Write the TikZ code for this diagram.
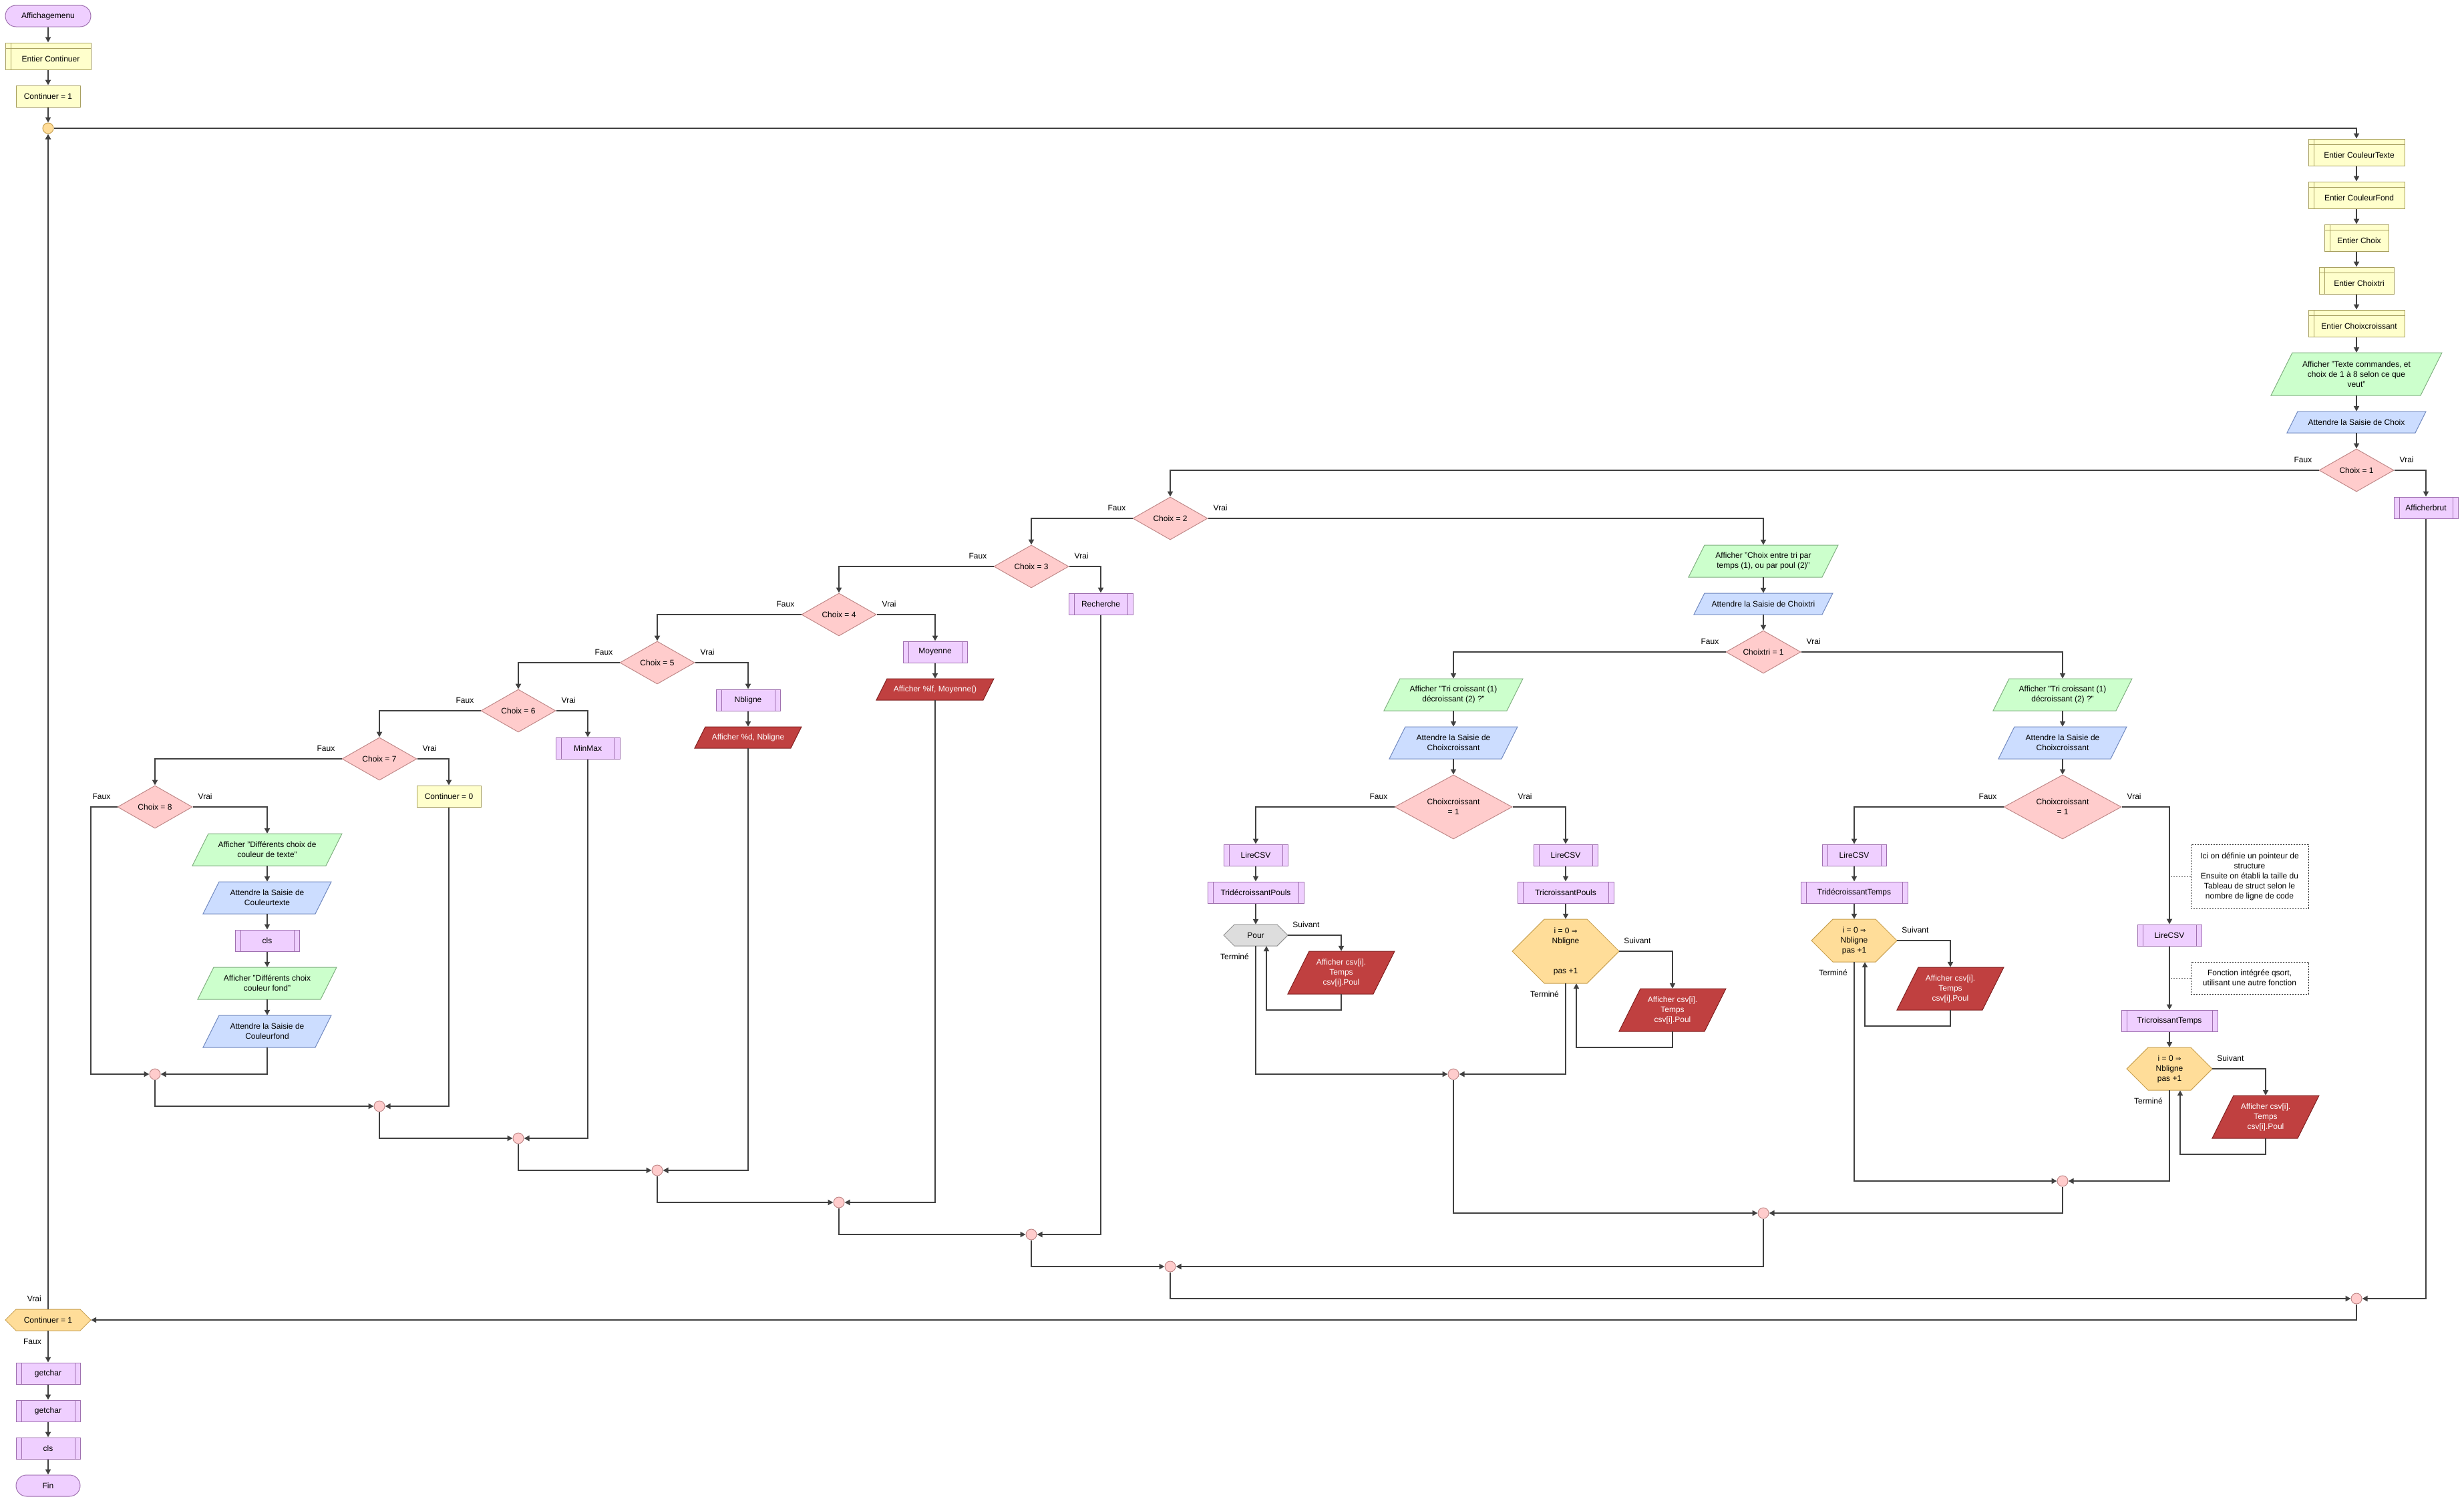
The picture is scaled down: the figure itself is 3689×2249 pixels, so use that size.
\documentclass[tikz,border=0pt]{standalone}
\usepackage{fontspec}
\setmainfont{Liberation Sans}
\newfontfamily\symfont{DejaVu Sans}
\usetikzlibrary{arrows.meta,shapes.geometric}

\definecolor{linec}{HTML}{404040}
\definecolor{purf}{HTML}{EFCFFF}\definecolor{purd}{HTML}{9F70B0}
\definecolor{yelf}{HTML}{FFFFCC}\definecolor{yeld}{HTML}{A8A060}
\definecolor{pinkf}{HTML}{FFCCCC}\definecolor{pinkd}{HTML}{C08888}
\definecolor{grnf}{HTML}{CCFFCC}\definecolor{grnd}{HTML}{80B080}
\definecolor{bluf}{HTML}{CCDDFF}\definecolor{blud}{HTML}{7088C0}
\definecolor{redf}{HTML}{C04040}\definecolor{redd}{HTML}{802020}
\definecolor{orf}{HTML}{FFDD99}\definecolor{ord}{HTML}{C8A050}
\definecolor{gryf}{HTML}{DDDDDD}\definecolor{gryd}{HTML}{909090}

\newcommand{\fleche}{{\symfont\fontsize{10}{15}\selectfont ⇒}}

% parallelogram (input/output): name, x, y, side width, height, style, text colour, text
\newcommand{\ionode}[8]{%
  \pgfmathsetmacro\ioxa{#2-#4/2-#5/4}%
  \pgfmathsetmacro\ioxb{#2+#4/2-#5/4}%
  \pgfmathsetmacro\ioxc{#2+#4/2+#5/4}%
  \pgfmathsetmacro\ioxd{#2-#4/2+#5/4}%
  \pgfmathsetmacro\ioyb{#3+#5/2}%
  \pgfmathsetmacro\ioyt{#3-#5/2}%
  \path[#6] (\ioxa,\ioyb) -- (\ioxb,\ioyb) -- (\ioxc,\ioyt) -- (\ioxd,\ioyt) -- cycle;
  \node[shapetext, text=#7, minimum width=#4pt, minimum height=#5pt] (#1) at (#2,#3) {#8};}

% hexagon (loops): name, x, y, width, height, slant, style, text
\newcommand{\hexnode}[8]{%
  \pgfmathsetmacro\hxa{#2-#4/2}%
  \pgfmathsetmacro\hxb{#2-#4/2+#6}%
  \pgfmathsetmacro\hxc{#2+#4/2-#6}%
  \pgfmathsetmacro\hxd{#2+#4/2}%
  \pgfmathsetmacro\hya{#3-#5/2}%
  \pgfmathsetmacro\hyb{#3+#5/2}%
  \path[#7] (\hxa,#3) -- (\hxb,\hya) -- (\hxc,\hya) -- (\hxd,#3) -- (\hxc,\hyb) -- (\hxb,\hyb) -- cycle;
  \node[shapetext, minimum width=#4pt, minimum height=#5pt] (#1) at (#2,#3) {#8};}

\tikzset{
  every node/.style={font=\fontsize{12}{15}\selectfont},
  base/.style={inner sep=0pt, align=center, line width=1pt},
  shapetext/.style={rectangle, inner sep=0pt, align=center, draw=none, fill=none},
  term/.style={base, rectangle, rounded corners=16pt, minimum width=#1, minimum height=32pt, fill=purf, draw=purd},
  term/.default=96pt,
  sub/.style={base, rectangle, minimum width=#1, minimum height=32pt, fill=purf, draw=purd,
    path picture={\draw[purd, line width=1pt]
      ([xshift=8pt]path picture bounding box.north west) -- ([xshift=8pt]path picture bounding box.south west)
      ([xshift=-8pt]path picture bounding box.north east) -- ([xshift=-8pt]path picture bounding box.south east);}},
  sub/.default=96pt,
  decl/.style={base, rectangle, minimum width=#1, minimum height=40pt, fill=yelf, draw=yeld,
    execute at begin node={\hspace*{8pt}\rule{0pt}{17pt}},
    path picture={\draw[yeld, line width=1pt]
      ([xshift=8pt]path picture bounding box.north west) -- ([xshift=8pt]path picture bounding box.south west)
      ([yshift=-8pt]path picture bounding box.north west) -- ([yshift=-8pt]path picture bounding box.north east);}},
  decl/.default=128pt,
  proc/.style={base, rectangle, minimum width=96pt, minimum height=32pt, fill=yelf, draw=yeld},
  dec/.style={base, diamond, aspect=1.75, minimum width=112pt, minimum height=64pt, fill=pinkf, draw=pinkd},
  bigdec/.style={base, diamond, aspect=1.83, minimum width=176pt, minimum height=96pt, fill=pinkf, draw=pinkd},
  jn/.style={circle, inner sep=0pt, minimum size=16pt, fill=pinkf, draw=pinkd, line width=1pt},
  note/.style={base, rectangle, fill=white, draw=black!85, dash pattern=on 2pt off 2pt},
  notel/.style={draw=black!60, line width=1pt, dash pattern=on 2pt off 2pt},
  iogrn/.style={fill=grnf, draw=grnd, line width=1pt},
  ioblu/.style={fill=bluf, draw=blud, line width=1pt},
  iored/.style={fill=redf, draw=redd, line width=1pt},
  hexorg/.style={fill=orf, draw=ord, line width=1pt},
  hexgry/.style={fill=gryf, draw=gryd, line width=1pt},
  lbl/.style={inner sep=0pt},
  flow/.style={draw=linec, line width=2pt, -{Triangle[length=8pt,width=8pt]}},
}

\begin{document}
\begin{tikzpicture}[x=1pt,y=-1pt]
\useasboundingbox (0,0) rectangle (3689,2249);
\fill[white] (0,0) rectangle (3689,2249);

% ---- start of program (left column)
\node[term=128pt] (start) at (72,24) {Affichagemenu};
\node[decl=128pt] (dcont) at (72,84) {Entier Continuer};
\node[proc] (cont1) at (72,144) {Continuer = 1};
\node[jn, fill=orf, draw=ord] (jtop) at (72,192) {};

% ---- loop body header (right column)
\node[decl=144pt] (dtxt) at (3528,228) {Entier CouleurTexte};
\node[decl=144pt] (dfond) at (3528,292) {Entier CouleurFond};
\node[decl=96pt] (dchoix) at (3528,356) {Entier Choix};
\node[decl=112pt] (dtri) at (3528,420) {Entier Choixtri};
\node[decl=144pt] (dcroi) at (3528,484) {Entier Choixcroissant};
\ionode{menu}{3528}{560}{224}{64}{iogrn}{black}{Afficher "Texte commandes, et\\choix de 1 à 8 selon ce que\\veut"}
\ionode{wchoix}{3528}{632}{192}{32}{ioblu}{black}{Attendre la Saisie de Choix}
\node[dec] (q1) at (3528,704) {Choix = 1};
\node[sub] (brut) at (3632,760) {Afficherbrut};

% ---- menu cascade
\node[dec] (q2) at (1752,776) {Choix = 2};
\node[dec] (q3) at (1544,848) {Choix = 3};
\node[sub] (rech) at (1648,904) {Recherche};
\node[dec] (q4) at (1256,920) {Choix = 4};
\node[sub] (moy) at (1400,976) {Moyenne};
\ionode{affmoy}{1400}{1032}{160}{32}{iored}{white}{Afficher \%lf, Moyenne()}
\node[dec] (q5) at (984,992) {Choix = 5};
\node[sub] (nbl) at (1120,1048) {Nbligne};
\ionode{affnbl}{1120}{1104}{144}{32}{iored}{white}{Afficher \%d, Nbligne}
\node[dec] (q6) at (776,1064) {Choix = 6};
\node[sub] (minmax) at (880,1120) {MinMax};
\node[dec] (q7) at (568,1136) {Choix = 7};
\node[proc] (cont0) at (672,1192) {Continuer = 0};
\node[dec] (q8) at (232,1208) {Choix = 8};
\ionode{coltxt}{400}{1272}{200}{48}{iogrn}{black}{Afficher "Différents choix de\\couleur de texte"}
\ionode{wcoltxt}{400}{1344}{168}{48}{ioblu}{black}{Attendre la Saisie de\\Couleurtexte}
\node[sub] (cls1) at (400,1408) {cls};
\ionode{colfond}{400}{1472}{184}{48}{iogrn}{black}{Afficher "Différents choix\\couleur fond"}
\ionode{wcolfond}{400}{1544}{168}{48}{ioblu}{black}{Attendre la Saisie de\\Couleurfond}

% ---- sorting branch (Choix = 2)
\ionode{tri}{2640}{840}{200}{48}{iogrn}{black}{Afficher "Choix entre tri par\\temps (1), ou par poul (2)"}
\ionode{wtri}{2640}{904}{192}{32}{ioblu}{black}{Attendre la Saisie de Choixtri}
\node[dec] (qt) at (2640,976) {Choixtri = 1};

\ionode{sensL}{2176}{1040}{184}{48}{iogrn}{black}{Afficher "Tri croissant (1)\\décroissant (2) ?"}
\ionode{wsensL}{2176}{1112}{168}{48}{ioblu}{black}{Attendre la Saisie de\\Choixcroissant}
\node[bigdec] (qcL) at (2176,1208) {Choixcroissant\\= 1};
\node[sub] (lireA) at (1880,1280) {LireCSV};
\node[sub=144pt] (triA) at (1880,1336) {TridécroissantPouls};
\hexnode{pour}{1880}{1400}{96}{32}{16}{hexgry}{Pour}
\ionode{outA}{2008}{1456}{128}{64}{iored}{white}{Afficher csv[i].\\Temps\\csv[i].Poul}
\node[sub] (lireB) at (2344,1280) {LireCSV};
\node[sub=144pt] (triB) at (2344,1336) {TricroissantPouls};
\hexnode{forB}{2344}{1424}{160}{96}{48}{hexorg}{i = 0 \fleche\\Nbligne\\[30pt]pas +1}
\ionode{outB}{2504}{1512}{128}{64}{iored}{white}{Afficher csv[i].\\Temps\\csv[i].Poul}
\node[jn] (jL) at (2176,1608) {};

\ionode{sensR}{3088}{1040}{184}{48}{iogrn}{black}{Afficher "Tri croissant (1)\\décroissant (2) ?"}
\ionode{wsensR}{3088}{1112}{168}{48}{ioblu}{black}{Attendre la Saisie de\\Choixcroissant}
\node[bigdec] (qcR) at (3088,1208) {Choixcroissant\\= 1};
\node[sub] (lireC) at (2776,1280) {LireCSV};
\node[sub=160pt] (triC) at (2776,1336) {TridécroissantTemps};
\hexnode{forC}{2776}{1408}{128}{64}{32}{hexorg}{i = 0 \fleche\\Nbligne\\pas +1}
\ionode{outC}{2920}{1480}{128}{64}{iored}{white}{Afficher csv[i].\\Temps\\csv[i].Poul}
\node[sub] (lireD) at (3248,1400) {LireCSV};
\node[sub=144pt] (triD) at (3248,1528) {TricroissantTemps};
\hexnode{forD}{3248}{1600}{128}{64}{32}{hexorg}{i = 0 \fleche\\Nbligne\\pas +1}
\ionode{outD}{3392}{1672}{128}{64}{iored}{white}{Afficher csv[i].\\Temps\\csv[i].Poul}
\node[jn] (jR) at (3088,1768) {};
\node[jn] (jc) at (2640,1816) {};

\node[note, minimum width=176pt, minimum height=96pt] (n1) at (3368,1312)
  {Ici on définie un pointeur de\\structure\\Ensuite on établi la taille du\\Tableau de struct selon le\\nombre de ligne de code};
\node[note, minimum width=176pt, minimum height=48pt] (n2) at (3368,1464)
  {Fonction intégrée qsort,\\utilisant une autre fonction};

% ---- merge points
\node[jn] (j8) at (232,1608) {};
\node[jn] (j7) at (568,1656) {};
\node[jn] (j6) at (776,1704) {};
\node[jn] (j5) at (984,1752) {};
\node[jn] (j4) at (1256,1800) {};
\node[jn] (j3) at (1544,1848) {};
\node[jn] (j2) at (1752,1896) {};
\node[jn] (j1) at (3528,1944) {};

% ---- end of program
\hexnode{loopq}{72}{1976}{128}{32}{16}{hexorg}{Continuer = 1}
\node[sub] (gc1) at (72,2056) {getchar};
\node[sub] (gc2) at (72,2112) {getchar};
\node[sub] (cls2) at (72,2168) {cls};
\node[term] (fin) at (72,2224) {Fin};

% ---- connectors
\draw[flow] (start) -- (dcont);
\draw[flow] (dcont) -- (cont1);
\draw[flow] (cont1) -- (jtop);
\draw[flow] (jtop) -| (dtxt);
\draw[flow] (dtxt) -- (dfond);
\draw[flow] (dfond) -- (dchoix);
\draw[flow] (dchoix) -- (dtri);
\draw[flow] (dtri) -- (dcroi);
\draw[flow] (dcroi) -- (menu);
\draw[flow] (menu) -- (wchoix);
\draw[flow] (wchoix) -- (q1);
\draw[flow] (q1.east) -| (brut);
\draw[flow] (q1.west) -| (q2);
\draw[flow] (q2.east) -| (tri);
\draw[flow] (q2.west) -| (q3);
\draw[flow] (q3.east) -| (rech);
\draw[flow] (q3.west) -| (q4);
\draw[flow] (q4.east) -| (moy);
\draw[flow] (moy) -- (affmoy);
\draw[flow] (q4.west) -| (q5);
\draw[flow] (q5.east) -| (nbl);
\draw[flow] (nbl) -- (affnbl);
\draw[flow] (q5.west) -| (q6);
\draw[flow] (q6.east) -| (minmax);
\draw[flow] (q6.west) -| (q7);
\draw[flow] (q7.east) -| (cont0);
\draw[flow] (q7.west) -| (q8);
\draw[flow] (q8.east) -| (coltxt);
\draw[flow] (coltxt) -- (wcoltxt);
\draw[flow] (wcoltxt) -- (cls1);
\draw[flow] (cls1) -- (colfond);
\draw[flow] (colfond) -- (wcolfond);
\draw[flow] (wcolfond) |- (j8);
\draw[flow] (q8.west) -- ++(-40,0) |- (j8);

\draw[flow] (tri) -- (wtri);
\draw[flow] (wtri) -- (qt);
\draw[flow] (qt.west) -| (sensL);
\draw[flow] (sensL) -- (wsensL);
\draw[flow] (wsensL) -- (qcL);
\draw[flow] (qcL.west) -| (lireA);
\draw[flow] (lireA) -- (triA);
\draw[flow] (triA) -- (pour);
\draw[flow] (pour.east) -| (outA);
\draw[flow] (outA.south) -- ++(0,24) -| ([xshift=16pt]pour.south);
\draw[flow] (pour.south) |- (jL);
\draw[flow] (qcL.east) -| (lireB);
\draw[flow] (lireB) -- (triB);
\draw[flow] (triB) -- (forB);
\draw[flow] (forB.east) -| (outB);
\draw[flow] (outB.south) -- ++(0,24) -| ([xshift=16pt]forB.south);
\draw[flow] (forB.south) |- (jL);
\draw[flow] (jL) |- (jc);

\draw[flow] (qt.east) -| (sensR);
\draw[flow] (sensR) -- (wsensR);
\draw[flow] (wsensR) -- (qcR);
\draw[flow] (qcR.west) -| (lireC);
\draw[flow] (lireC) -- (triC);
\draw[flow] (triC) -- (forC);
\draw[flow] (forC.east) -| (outC);
\draw[flow] (outC.south) -- ++(0,24) -| ([xshift=16pt]forC.south);
\draw[flow] (forC.south) |- (jR);
\draw[flow] (qcR.east) -| (lireD);
\draw[flow] (lireD) -- (triD);
\draw[flow] (triD) -- (forD);
\draw[flow] (forD.east) -| (outD);
\draw[flow] (outD.south) -- ++(0,24) -| ([xshift=16pt]forD.south);
\draw[flow] (forD.south) |- (jR);
\draw[flow] (jR) |- (jc);
\draw[notel] (n1.west) -- (n1.west -| lireD);
\draw[notel] (n2.west) -- (n2.west -| lireD);

\draw[flow] (j8) |- (j7);
\draw[flow] (cont0) |- (j7);
\draw[flow] (j7) |- (j6);
\draw[flow] (minmax) |- (j6);
\draw[flow] (j6) |- (j5);
\draw[flow] (affnbl) |- (j5);
\draw[flow] (j5) |- (j4);
\draw[flow] (affmoy) |- (j4);
\draw[flow] (j4) |- (j3);
\draw[flow] (rech) |- (j3);
\draw[flow] (j3) |- (j2);
\draw[flow] (jc) |- (j2);
\draw[flow] (j2) |- (j1);
\draw[flow] (brut) |- (j1);
\draw[flow] (j1) |- (loopq);
\draw[flow] (loopq) -- (jtop);
\draw[flow] (loopq) -- (gc1);
\draw[flow] (gc1) -- (gc2);
\draw[flow] (gc2) -- (cls2);
\draw[flow] (cls2) -- (fin);

% ---- branch labels
\foreach \q in {q1,q2,q3,q4,q5,q6,q7,q8,qt,qcL,qcR} {
  \node[lbl, anchor=east] (\q-f) at ([xshift=-10pt,yshift=16pt]\q.west) {Faux};
  \node[lbl, anchor=west] (\q-v) at ([xshift=8pt,yshift=16pt]\q.east) {Vrai};
}
\foreach \h in {pour,forB,forC,forD} {
  \node[lbl, anchor=west] (\h-s) at ([xshift=7pt,yshift=16pt]\h.east) {Suivant};
  \node[lbl, anchor=east] (\h-t) at ([xshift=-10pt,yshift=-16pt]\h.south) {Terminé};
}
\node[lbl, anchor=east] (loopq-v) at ([xshift=-10pt,yshift=16pt]loopq.north) {Vrai};
\node[lbl, anchor=east] (loopq-f) at ([xshift=-10pt,yshift=-16pt]loopq.south) {Faux};
\end{tikzpicture}
\end{document}
